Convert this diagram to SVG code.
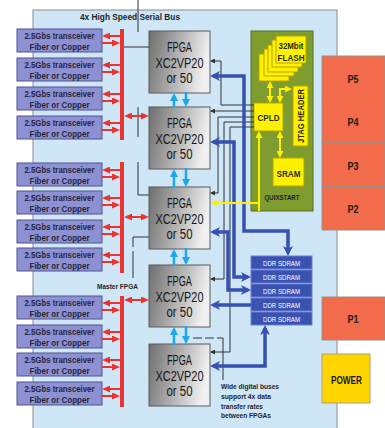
<svg xmlns="http://www.w3.org/2000/svg" width="385" height="428" viewBox="0 0 385 428">
<style>
text{font-family:"Liberation Sans",Arial,sans-serif;fill:#1e1e2a}
.tr rect{fill:#8e90d4;stroke:#4f5390;stroke-width:1}
.tr text{font-size:9.5px;font-weight:bold;text-anchor:middle;fill:#262638}
.fp rect{fill:url(#gg);stroke:#5a5a5a;stroke-width:1}
.fp text{font-size:14px;text-anchor:middle;fill:#161616}
.yb{fill:#fff200;stroke:#b3a400;stroke-width:1}
.yt{font-size:9px;font-weight:bold;text-anchor:middle;fill:#2a2a10}
.pb{fill:#f26b4b;stroke:#9a8f88;stroke-width:1}
.pt{font-size:11px;font-weight:bold;text-anchor:middle;fill:#1a1a1a}
.dd rect{fill:#3a52b0;stroke:#6d80d2;stroke-width:1}
.dd text{font-size:7.5px;text-anchor:middle;fill:#ffffff}
.red{stroke:#ea3434;stroke-width:2;fill:none}
.cy{stroke:#1ea8e8;stroke-width:2.5;fill:none}
.bl{stroke:#3451b3;stroke-width:3.5;fill:none;stroke-linejoin:miter}
.bk{stroke:#333;stroke-width:1;fill:none}
.ye{stroke:#fff000;stroke-width:2;fill:none}
.note{font-size:7px;font-weight:bold;fill:#1e1e2a}
</style>
<defs>
<linearGradient id="gg" x1="0" y1="0" x2="1" y2="0.2">
<stop offset="0" stop-color="#6e6e6e"/>
<stop offset="0.55" stop-color="#b4b4b4"/>
<stop offset="1" stop-color="#f0f0f0"/>
</linearGradient>
<marker id="mr" markerUnits="userSpaceOnUse" viewBox="0 0 8 7" markerWidth="8" markerHeight="7" refX="6" refY="3.5" orient="auto-start-reverse"><path d="M0,0 L8,3.5 L0,7 z" fill="#ea3434"/></marker>
<marker id="mc" markerUnits="userSpaceOnUse" viewBox="0 0 8 8" markerWidth="8" markerHeight="8" refX="5" refY="4" orient="auto-start-reverse"><path d="M0,0 L8,4 L0,8 z" fill="#1ea8e8"/></marker>
<marker id="mb" markerUnits="userSpaceOnUse" viewBox="0 0 10 10" markerWidth="10" markerHeight="10" refX="7" refY="5" orient="auto-start-reverse"><path d="M0,0 L10,5 L0,10 L2.5,5 z" fill="#3451b3"/></marker>
<marker id="mk" markerUnits="userSpaceOnUse" viewBox="0 0 5 5" markerWidth="5" markerHeight="5" refX="4" refY="2.5" orient="auto-start-reverse"><path d="M0,0 L5,2.5 L0,5 z" fill="#333"/></marker>
<marker id="my" markerUnits="userSpaceOnUse" viewBox="0 0 7 7" markerWidth="7" markerHeight="7" refX="5" refY="3.5" orient="auto-start-reverse"><path d="M0,0 L7,3.5 L0,7 z" fill="#fff000"/></marker>
</defs>

<g id="board">
<rect x="33" y="10" width="304" height="425" fill="#cfe6f6" stroke="#8a8a8a" stroke-width="1"/>
<text x="130" y="20" font-size="9" font-weight="bold" text-anchor="middle" textLength="100" lengthAdjust="spacingAndGlyphs">4x High Speed Serial Bus</text>
</g>

<g id="quixstart">
<rect x="251" y="31" width="62" height="180" fill="#7f9c2f" stroke="#5a7020" stroke-width="1"/>
<text x="282" y="199.5" font-size="7" font-weight="bold" text-anchor="middle" textLength="35" lengthAdjust="spacingAndGlyphs" fill="#24300a">QUIXSTART</text>
</g>

<g id="flash">
<rect class="yb" x="259" y="54" width="30" height="27"/>
<rect class="yb" x="264" y="49" width="30" height="27"/>
<rect class="yb" x="268" y="45" width="30" height="27"/>
<rect class="yb" x="272" y="40" width="30" height="27"/>
<rect class="yb" x="276" y="36" width="30" height="27"/>
<text class="yt" x="291" y="48.5" textLength="25" lengthAdjust="spacingAndGlyphs">32Mbit</text>
<text class="yt" x="291" y="60.5" textLength="27" lengthAdjust="spacingAndGlyphs">FLASH</text>
</g>
<g id="cpld">
<rect class="yb" x="254" y="103" width="29" height="28"/>
<text class="yt" x="268.5" y="121" font-size="10" textLength="22" lengthAdjust="spacingAndGlyphs">CPLD</text>
</g>
<g id="jtag">
<rect class="yb" x="293" y="86" width="15" height="60"/>
<text class="yt" transform="translate(303.5,116) rotate(-90)" x="0" y="0" textLength="54" lengthAdjust="spacingAndGlyphs">JTAG HEADER</text>
</g>
<g id="sram">
<rect class="yb" x="273" y="158" width="31" height="28"/>
<text class="yt" x="288.5" y="176.5" textLength="24" lengthAdjust="spacingAndGlyphs">SRAM</text>
</g>

<g id="p5"><rect class="pb" x="322" y="56" width="63" height="43.5"/><text class="pt" x="353" y="82.5" textLength="11" lengthAdjust="spacingAndGlyphs">P5</text></g>
<g id="p4"><rect class="pb" x="322" y="99.5" width="63" height="43.5"/><text class="pt" x="353" y="126" textLength="11" lengthAdjust="spacingAndGlyphs">P4</text></g>
<g id="p3"><rect class="pb" x="322" y="143" width="63" height="43.5"/><text class="pt" x="353" y="169.5" textLength="11" lengthAdjust="spacingAndGlyphs">P3</text></g>
<g id="p2"><rect class="pb" x="322" y="186.5" width="63" height="43.5"/><text class="pt" x="353" y="213" textLength="11" lengthAdjust="spacingAndGlyphs">P2</text></g>
<g id="p1"><rect class="pb" x="322" y="297" width="63" height="43"/><text class="pt" x="353" y="323" textLength="11" lengthAdjust="spacingAndGlyphs">P1</text></g>
<g id="power"><rect x="322" y="354" width="48" height="49" fill="#ffd500" stroke="#b0a070" stroke-width="1"/><text class="pt" x="346.5" y="384" font-size="10" textLength="31" lengthAdjust="spacingAndGlyphs">POWER</text></g>

<g id="ddr" class="dd">
<rect x="251" y="256" width="61" height="13"/><text x="281.5" y="265.5" textLength="37" lengthAdjust="spacingAndGlyphs">DDR SDRAM</text>
<rect x="251" y="270" width="61" height="13"/><text x="281.5" y="279.5" textLength="37" lengthAdjust="spacingAndGlyphs">DDR SDRAM</text>
<rect x="251" y="284" width="61" height="13"/><text x="281.5" y="293.5" textLength="37" lengthAdjust="spacingAndGlyphs">DDR SDRAM</text>
<rect x="251" y="298" width="61" height="13"/><text x="281.5" y="307.5" textLength="37" lengthAdjust="spacingAndGlyphs">DDR SDRAM</text>
<rect x="251" y="312" width="61" height="13"/><text x="281.5" y="321.5" textLength="37" lengthAdjust="spacingAndGlyphs">DDR SDRAM</text>
</g>

<g id="fpga1" class="fp"><rect x="149" y="31" width="61" height="62"/><text x="179.5" y="52" textLength="25" lengthAdjust="spacingAndGlyphs">FPGA</text><text x="179.5" y="68" textLength="48" lengthAdjust="spacingAndGlyphs">XC2VP20</text><text x="179.5" y="83" textLength="26" lengthAdjust="spacingAndGlyphs">or 50</text></g>
<g id="fpga2" class="fp"><rect x="149" y="107" width="61" height="62"/><text x="179.5" y="128" textLength="25" lengthAdjust="spacingAndGlyphs">FPGA</text><text x="179.5" y="144" textLength="48" lengthAdjust="spacingAndGlyphs">XC2VP20</text><text x="179.5" y="159" textLength="26" lengthAdjust="spacingAndGlyphs">or 50</text></g>
<g id="fpga3" class="fp"><rect x="149" y="187" width="61" height="62"/><text x="179.5" y="208" textLength="25" lengthAdjust="spacingAndGlyphs">FPGA</text><text x="179.5" y="224" textLength="48" lengthAdjust="spacingAndGlyphs">XC2VP20</text><text x="179.5" y="239" textLength="26" lengthAdjust="spacingAndGlyphs">or 50</text></g>
<g id="fpga4" class="fp"><rect x="149" y="265" width="61" height="62"/><text x="179.5" y="286" textLength="25" lengthAdjust="spacingAndGlyphs">FPGA</text><text x="179.5" y="302" textLength="48" lengthAdjust="spacingAndGlyphs">XC2VP20</text><text x="179.5" y="317" textLength="26" lengthAdjust="spacingAndGlyphs">or 50</text></g>
<g id="fpga5" class="fp"><rect x="149" y="344" width="61" height="62"/><text x="179.5" y="365" textLength="25" lengthAdjust="spacingAndGlyphs">FPGA</text><text x="179.5" y="381" textLength="48" lengthAdjust="spacingAndGlyphs">XC2VP20</text><text x="179.5" y="396" textLength="26" lengthAdjust="spacingAndGlyphs">or 50</text></g>

<g id="transceivers" class="tr">
<g id="tr1"><rect x="17" y="29" width="85" height="23"/><text x="59.5" y="39" textLength="70" lengthAdjust="spacingAndGlyphs">2.5Gbs transceiver</text><text x="59.5" y="50" textLength="60" lengthAdjust="spacingAndGlyphs">Fiber or Copper</text></g>
<g id="tr2"><rect x="17" y="58" width="85" height="23"/><text x="59.5" y="68" textLength="70" lengthAdjust="spacingAndGlyphs">2.5Gbs transceiver</text><text x="59.5" y="79" textLength="60" lengthAdjust="spacingAndGlyphs">Fiber or Copper</text></g>
<g id="tr3"><rect x="17" y="87" width="85" height="23"/><text x="59.5" y="97" textLength="70" lengthAdjust="spacingAndGlyphs">2.5Gbs transceiver</text><text x="59.5" y="108" textLength="60" lengthAdjust="spacingAndGlyphs">Fiber or Copper</text></g>
<g id="tr4"><rect x="17" y="116" width="85" height="23"/><text x="59.5" y="126" textLength="70" lengthAdjust="spacingAndGlyphs">2.5Gbs transceiver</text><text x="59.5" y="137" textLength="60" lengthAdjust="spacingAndGlyphs">Fiber or Copper</text></g>
<g id="tr5"><rect x="17" y="163" width="85" height="23"/><text x="59.5" y="173" textLength="70" lengthAdjust="spacingAndGlyphs">2.5Gbs transceiver</text><text x="59.5" y="184" textLength="60" lengthAdjust="spacingAndGlyphs">Fiber or Copper</text></g>
<g id="tr6"><rect x="17" y="191" width="85" height="23"/><text x="59.5" y="201" textLength="70" lengthAdjust="spacingAndGlyphs">2.5Gbs transceiver</text><text x="59.5" y="212" textLength="60" lengthAdjust="spacingAndGlyphs">Fiber or Copper</text></g>
<g id="tr7"><rect x="17" y="220" width="85" height="23"/><text x="59.5" y="230" textLength="70" lengthAdjust="spacingAndGlyphs">2.5Gbs transceiver</text><text x="59.5" y="241" textLength="60" lengthAdjust="spacingAndGlyphs">Fiber or Copper</text></g>
<g id="tr8"><rect x="17" y="248" width="85" height="23"/><text x="59.5" y="258" textLength="70" lengthAdjust="spacingAndGlyphs">2.5Gbs transceiver</text><text x="59.5" y="269" textLength="60" lengthAdjust="spacingAndGlyphs">Fiber or Copper</text></g>
<g id="tr9"><rect x="17" y="296" width="85" height="23"/><text x="59.5" y="306" textLength="70" lengthAdjust="spacingAndGlyphs">2.5Gbs transceiver</text><text x="59.5" y="317" textLength="60" lengthAdjust="spacingAndGlyphs">Fiber or Copper</text></g>
<g id="tr10"><rect x="17" y="325" width="85" height="23"/><text x="59.5" y="335" textLength="70" lengthAdjust="spacingAndGlyphs">2.5Gbs transceiver</text><text x="59.5" y="346" textLength="60" lengthAdjust="spacingAndGlyphs">Fiber or Copper</text></g>
<g id="tr11"><rect x="17" y="353" width="85" height="23"/><text x="59.5" y="363" textLength="70" lengthAdjust="spacingAndGlyphs">2.5Gbs transceiver</text><text x="59.5" y="374" textLength="60" lengthAdjust="spacingAndGlyphs">Fiber or Copper</text></g>
<g id="tr12"><rect x="17" y="382" width="85" height="23"/><text x="59.5" y="392" textLength="70" lengthAdjust="spacingAndGlyphs">2.5Gbs transceiver</text><text x="59.5" y="403" textLength="60" lengthAdjust="spacingAndGlyphs">Fiber or Copper</text></g>
</g>

<g id="labels">
<text class="note" x="97" y="289" font-size="6.5" textLength="41" lengthAdjust="spacingAndGlyphs">Master FPGA</text>
<text class="note" x="221" y="389" textLength="58" lengthAdjust="spacingAndGlyphs">Wide digital buses</text>
<text class="note" x="221" y="399" textLength="50" lengthAdjust="spacingAndGlyphs">support 4x data</text>
<text class="note" x="221" y="409" textLength="42" lengthAdjust="spacingAndGlyphs">transfer rates</text>
<text class="note" x="221" y="418" textLength="50" lengthAdjust="spacingAndGlyphs">between FPGAs</text>
</g>

<g id="connectors">
<path class="bk" d="M138,0 V32"/>
<path class="bk" d="M124,47 H149"/>
<path class="bk" d="M138,107 V137"/>
<path class="bk" d="M138,162 V195 H149"/>
<path class="bk" d="M149,237 H133 V278" stroke-dasharray="26,4,30"/>
<path class="bk" d="M193,338 H223" stroke-dasharray="9,3" stroke="#555"/>
<path class="bk" d="M223,338 V380" stroke="#555"/>
<path class="bk" d="M254,105 H221 V61 H211" marker-end="url(#mk)"/>
<path class="bk" d="M254,111 H211" marker-end="url(#mk)"/>
<path class="bk" d="M254,117 H218 V193 H211" marker-end="url(#mk)"/>
<path class="bk" d="M254,122 H224 V279 H211" marker-end="url(#mk)"/>
<path class="bk" d="M254,127 H230 V352 H211" marker-end="url(#mk)"/>
<rect x="120" y="29" width="4" height="111" fill="#ea3434"/>
<rect x="120" y="162" width="4" height="111" fill="#ea3434"/>
<rect x="120" y="296" width="4" height="111" fill="#ea3434"/>
<g class="red">
<path d="M120,36 H104" marker-end="url(#mr)"/><path d="M102,43 H118" marker-end="url(#mr)"/>
<path d="M120,65 H104" marker-end="url(#mr)"/><path d="M102,72 H118" marker-end="url(#mr)"/>
<path d="M120,94 H104" marker-end="url(#mr)"/><path d="M102,101 H118" marker-end="url(#mr)"/>
<path d="M120,123 H104" marker-end="url(#mr)"/><path d="M102,130 H118" marker-end="url(#mr)"/>
<path d="M120,170 H104" marker-end="url(#mr)"/><path d="M102,177 H118" marker-end="url(#mr)"/>
<path d="M120,198 H104" marker-end="url(#mr)"/><path d="M102,205 H118" marker-end="url(#mr)"/>
<path d="M120,227 H104" marker-end="url(#mr)"/><path d="M102,234 H118" marker-end="url(#mr)"/>
<path d="M120,255 H104" marker-end="url(#mr)"/><path d="M102,262 H118" marker-end="url(#mr)"/>
<path d="M120,303 H104" marker-end="url(#mr)"/><path d="M102,310 H118" marker-end="url(#mr)"/>
<path d="M120,332 H104" marker-end="url(#mr)"/><path d="M102,339 H118" marker-end="url(#mr)"/>
<path d="M120,360 H104" marker-end="url(#mr)"/><path d="M102,367 H118" marker-end="url(#mr)"/>
<path d="M120,389 H104" marker-end="url(#mr)"/><path d="M102,396 H118" marker-end="url(#mr)"/>
<path d="M126,116 H147" marker-start="url(#mr)" marker-end="url(#mr)"/>
<path d="M126,217 H147" marker-start="url(#mr)" marker-end="url(#mr)"/>
<path d="M126,300 H147" marker-start="url(#mr)" marker-end="url(#mr)"/>
</g>
<g class="cy">
<path d="M174,108 V96" marker-end="url(#mc)"/><path d="M186,92 V104" marker-end="url(#mc)"/>
<path d="M174,188 V172" marker-end="url(#mc)"/><path d="M186,168 V184" marker-end="url(#mc)"/>
<path d="M174,266 V252" marker-end="url(#mc)"/><path d="M186,248 V262" marker-end="url(#mc)"/>
<path d="M174,345 V330" marker-end="url(#mc)"/><path d="M186,326 V341" marker-end="url(#mc)"/>
</g>
<g class="bl">
<path d="M213,76 H244 V231 H288 V253" marker-start="url(#mb)" marker-end="url(#mb)"/>
<path d="M213,142 H234 V277 H248" marker-start="url(#mb)" marker-end="url(#mb)"/>
<path d="M213,232 H228 V290 H248" marker-start="url(#mb)" marker-end="url(#mb)"/>
<path d="M251,305 H213" marker-end="url(#mb)"/>
<path d="M213,366 H265 V328" marker-start="url(#mb)" marker-end="url(#mb)"/>
</g>
<g class="ye">
<path d="M270,83 V101" marker-start="url(#my)" marker-end="url(#my)"/>
<path d="M280,101 V89 H290" marker-start="url(#my)" marker-end="url(#my)"/>
<path d="M280,133 V156" marker-start="url(#my)" marker-end="url(#my)"/>
<path d="M259,211 V133" marker-end="url(#my)"/>
<path d="M259,203 H213" marker-end="url(#my)"/>
</g>
</g>
</svg>
